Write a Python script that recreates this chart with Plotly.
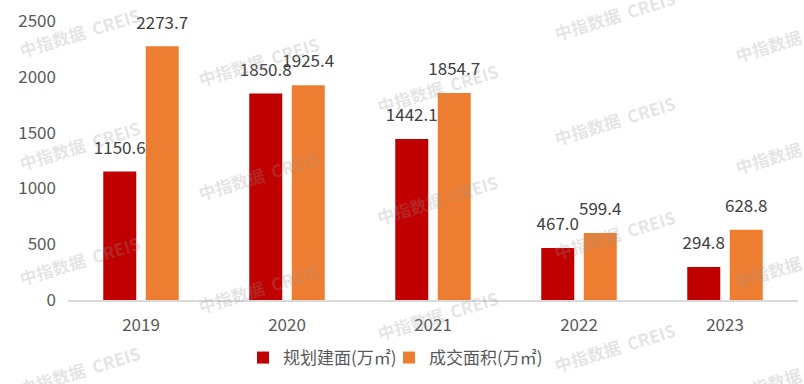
import plotly.graph_objects as go

years = ["2019", "2020", "2021", "2022", "2023"]
planned = [1150.6, 1850.8, 1442.1, 467.0, 294.8]
traded = [2273.7, 1925.4, 1854.7, 599.4, 628.8]
series_names = ["规划建面(万㎡)", "成交面积(万㎡)"]
colors = ["#C00000", "#ED7D31"]

font_family = "Noto Sans CJK SC, Noto Sans, sans-serif"

# plot area in pixels
L, R, T, B = 68, 6, 21, 84
W, H = 804, 384
PW, PH = W - L - R, H - T - B

def px_x(px):
    return (px - L) / PW

def px_y(py):
    return (T + PH - py) / PH

legend_ids = ["legend", "legend2"]
fig = go.Figure()
for i, (name, vals, col) in enumerate(zip(series_names, [planned, traded], colors)):
    fig.add_trace(go.Bar(
        x=years, y=vals, name=name, marker_color=col, marker_line_width=0,
        offsetgroup=str(i), hoverinfo="skip", legend=legend_ids[i],
    ))
for i, vals in enumerate([planned, traded]):
    fig.add_trace(go.Scatter(
        x=years, y=vals, mode="markers+text", offsetgroup=str(i),
        marker=dict(size=20, color="rgba(0,0,0,0)"),
        text=[f"{v:.1f}" for v in vals], textposition="top center",
        textfont=dict(size=17, color="#404040", family=font_family),
        showlegend=False, hoverinfo="skip", cliponaxis=False,
    ))

# watermarks (pixel centres)
wm = [(79, 32), (79, 145), (79, 260), (79, 370),
      (258, 61), (258, 175), (258, 288),
      (437, 88), (437, 200), (437, 315),
      (614, 15), (614, 120), (614, 234), (614, 347),
      (795, 37), (795, 149), (795, 263), (795, 375)]
for (px, py) in wm:
    fig.add_annotation(xref="paper", yref="paper",
                       x=px_x(px), y=px_y(py),
                       xanchor="center", yanchor="middle",
                       text="<b>中指数据  CREIS</b>", showarrow=False, textangle=-17,
                       font=dict(size=17, color="rgba(150,150,150,0.26)", family=font_family))

legend_common = dict(orientation="h", xanchor="left", yanchor="top",
                     y=px_y(340), bgcolor="rgba(0,0,0,0)",
                     font=dict(size=17, color="#595959", family=font_family))

fig.update_layout(
    width=W, height=H,
    margin=dict(l=L, r=R, t=T, b=B),
    plot_bgcolor="white", paper_bgcolor="white",
    barmode="group", bargap=0.418, bargroupgap=0.2235,
    scattermode="group", scattergap=0.418,
    font=dict(family=font_family, color="#595959"),
    showlegend=True,
    legend=dict(x=px_x(243), **legend_common),
    legend2=dict(x=px_x(389), **legend_common),
    xaxis=dict(showline=True, linecolor="#D9D9D9", linewidth=1.5, ticks="",
               automargin=False, ticklabelstandoff=9,
               tickfont=dict(size=17, color="#595959")),
    yaxis=dict(range=[0, 2500], dtick=500, showgrid=False, zeroline=False,
               showline=False, ticks="", ticklabelstandoff=11, automargin=False,
               tickfont=dict(size=17, color="#595959")),
)

# remove the browser's default page margin so the figure fills the window exactly
js = "document.body.style.margin='0';document.body.style.overflow='hidden';"
fig.write_html("out.html", post_script=js, config={"displayModeBar": False})
